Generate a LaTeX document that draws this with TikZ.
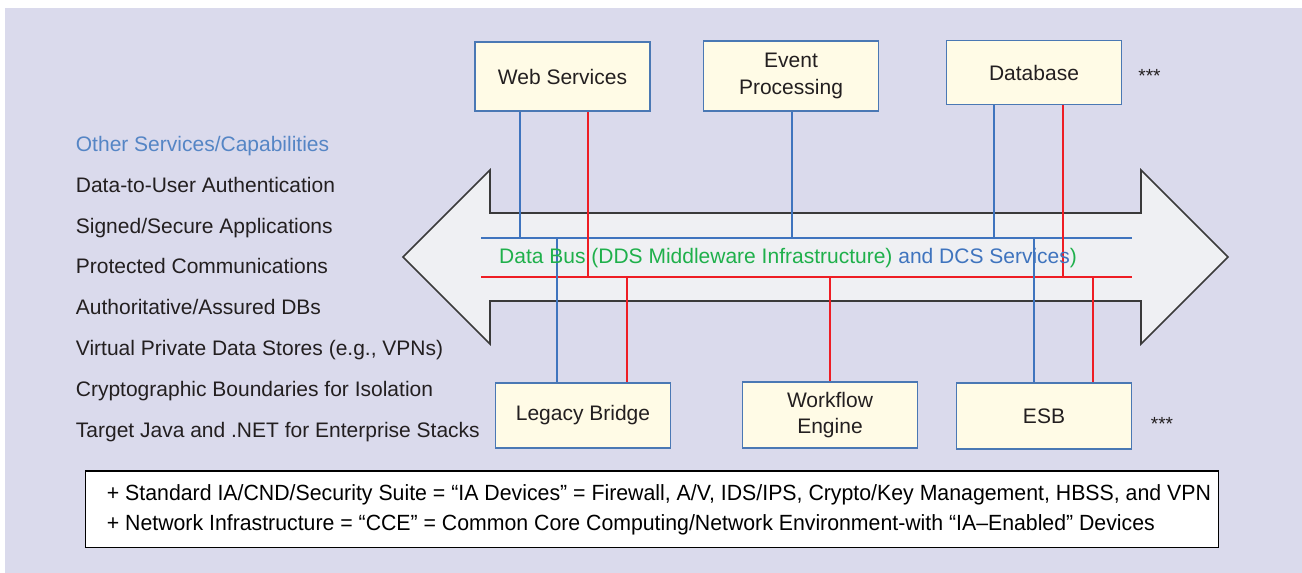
\documentclass[tikz,border=0pt]{standalone}
\usepackage{fontspec}
\setmainfont{Liberation Sans}
\usepackage{graphicx}
\definecolor{bg}{HTML}{DADAEC}
\definecolor{boxfill}{HTML}{FFFBE6}
\definecolor{boxline}{HTML}{4A78B4}
\definecolor{busblue}{HTML}{3F74BE}
\definecolor{busred}{HTML}{EE1D24}
\definecolor{busgreen}{HTML}{1FB04B}
\definecolor{arrowfill}{HTML}{EFF0F3}
\definecolor{arrowline}{HTML}{3A3A3A}
\definecolor{txt}{HTML}{231F20}
\definecolor{headblue}{HTML}{5585C5}
\begin{document}
\begin{tikzpicture}[x=1pt,y=-1pt,
  svc/.style={draw=boxline, line width=1.9pt, fill=boxfill, minimum width=175pt,
    text=txt, font=\fontsize{21}{26.4}\selectfont, align=center, inner sep=0pt},
  bline/.style={draw=busblue, line width=2pt},
  rline/.style={draw=busred, line width=2pt},
  item/.style={anchor=base west, inner sep=0pt, text=txt, font=\fontsize{21}{25}\selectfont},
  stars/.style={anchor=base, inner sep=0pt, text=txt, font=\fontsize{19}{22}\selectfont},
  foottext/.style={anchor=base west, inner sep=0pt, text=black, font=\fontsize{22}{26}\selectfont},
]
\useasboundingbox (0,0) rectangle (1302,573);
\fill[bg] (5,8) rectangle (1302,573);

% big double arrow
\draw[draw=arrowline, fill=arrowfill, line width=1.6pt, line join=miter]
  (403,257) -- (490,170) -- (490,213) -- (1141,213) -- (1141,170) -- (1228,257)
  -- (1141,344) -- (1141,301) -- (490,301) -- (490,344) -- cycle;

% service boxes
\node[svc, minimum height=69pt] (web) at (562.5,76.5) {Web Services};
\node[svc, minimum height=70pt] (event) at (791,76) {Event\\Processing};
\node[svc, minimum height=64pt] (db) at (1034,72.5) {Database};
\node[svc, minimum height=65pt] (legacy) at (583,415.5) {Legacy Bridge};
\node[svc, minimum height=66pt] (wf) at (830,415) {Workflow\\Engine};
\node[svc, minimum height=66pt] (esb) at (1044,416) {ESB};

% bus lines
\coordinate (bL) at (481,238);
\coordinate (bR) at (1132,238);
\coordinate (rL) at (481,277);
\coordinate (rR) at (1132,277);
\draw[bline] (bL) -- (bR);
\draw[rline] (rL) -- (rR);

% taps
\coordinate (tw1) at (520,238);
\coordinate (tw2) at (587.7,277);
\coordinate (te1) at (791.5,238);
\coordinate (td1) at (994.3,238);
\coordinate (td2) at (1062.7,277);
\coordinate (tl1) at (556.7,238);
\coordinate (tl2) at (626.7,277);
\coordinate (tf2) at (830,277);
\coordinate (ts1) at (1034,238);
\coordinate (ts2) at (1092.7,277);

\draw[bline] (web.south -| tw1) -- (tw1);
\draw[rline] (web.south -| tw2) -- (tw2);
\draw[bline] (event.south -| te1) -- (te1);
\draw[bline] (db.south -| td1) -- (td1);
\draw[rline] (db.south -| td2) -- (td2);
\draw[bline] (tl1) -- (legacy.north -| tl1);
\draw[rline] (tl2) -- (legacy.north -| tl2);
\draw[rline] (tf2) -- (wf.north -| tf2);
\draw[bline] (ts1) -- (esb.north -| ts1);
\draw[rline] (ts2) -- (esb.north -| ts2);

% bus label
\node[anchor=base west, inner sep=0pt, font=\fontsize{21}{25}\selectfont] (bus) at (499,263.3)
  {\color{busgreen}Data Bus (DDS Middleware Infrastructure) \color{busblue}and DCS Services\color{busgreen})};

% stars
\node[stars] (s1) at (1149.5,82.5) {***};
\node[stars] (s2) at (1162,430.5) {***};

% left list
\node[item, text=headblue] (h0) at (75.7,151) {Other Services/Capabilities};
\node[item] (l1) at (75.7,192) {Data-to-User Authentication};
\node[item] (l2) at (75.7,233) {Signed/Secure Applications};
\node[item] (l3) at (75.7,273.5) {Protected Communications};
\node[item] (l4) at (75.7,314) {Authoritative/Assured DBs};
\node[item] (l5) at (75.7,355) {Virtual Private Data Stores (e.g., VPNs)};
\node[item] (l6) at (75.7,396) {Cryptographic Boundaries for Isolation};
\node[item] (l7) at (75.7,437) {Target Java and .NET for Enterprise Stacks};

% footer
\node[draw=black, fill=white, line width=1.2pt, minimum width=1132.6pt, minimum height=76.7pt, inner sep=0pt] (foot) at (652,509.3) {};
\node[foottext] (f1) at (106.7,500.3)
  {\resizebox{1104pt}{\height}{+ Standard IA/CND/Security Suite = “IA Devices” = Firewall, A/V, IDS/IPS, Crypto/Key Management, HBSS, and VPN}};
\node[foottext] (f2) at (106.7,530.3)
  {\resizebox{1048pt}{\height}{+ Network Infrastructure = “CCE” = Common Core Computing/Network Environment-with “IA–Enabled” Devices}};
\end{tikzpicture}
\end{document}
